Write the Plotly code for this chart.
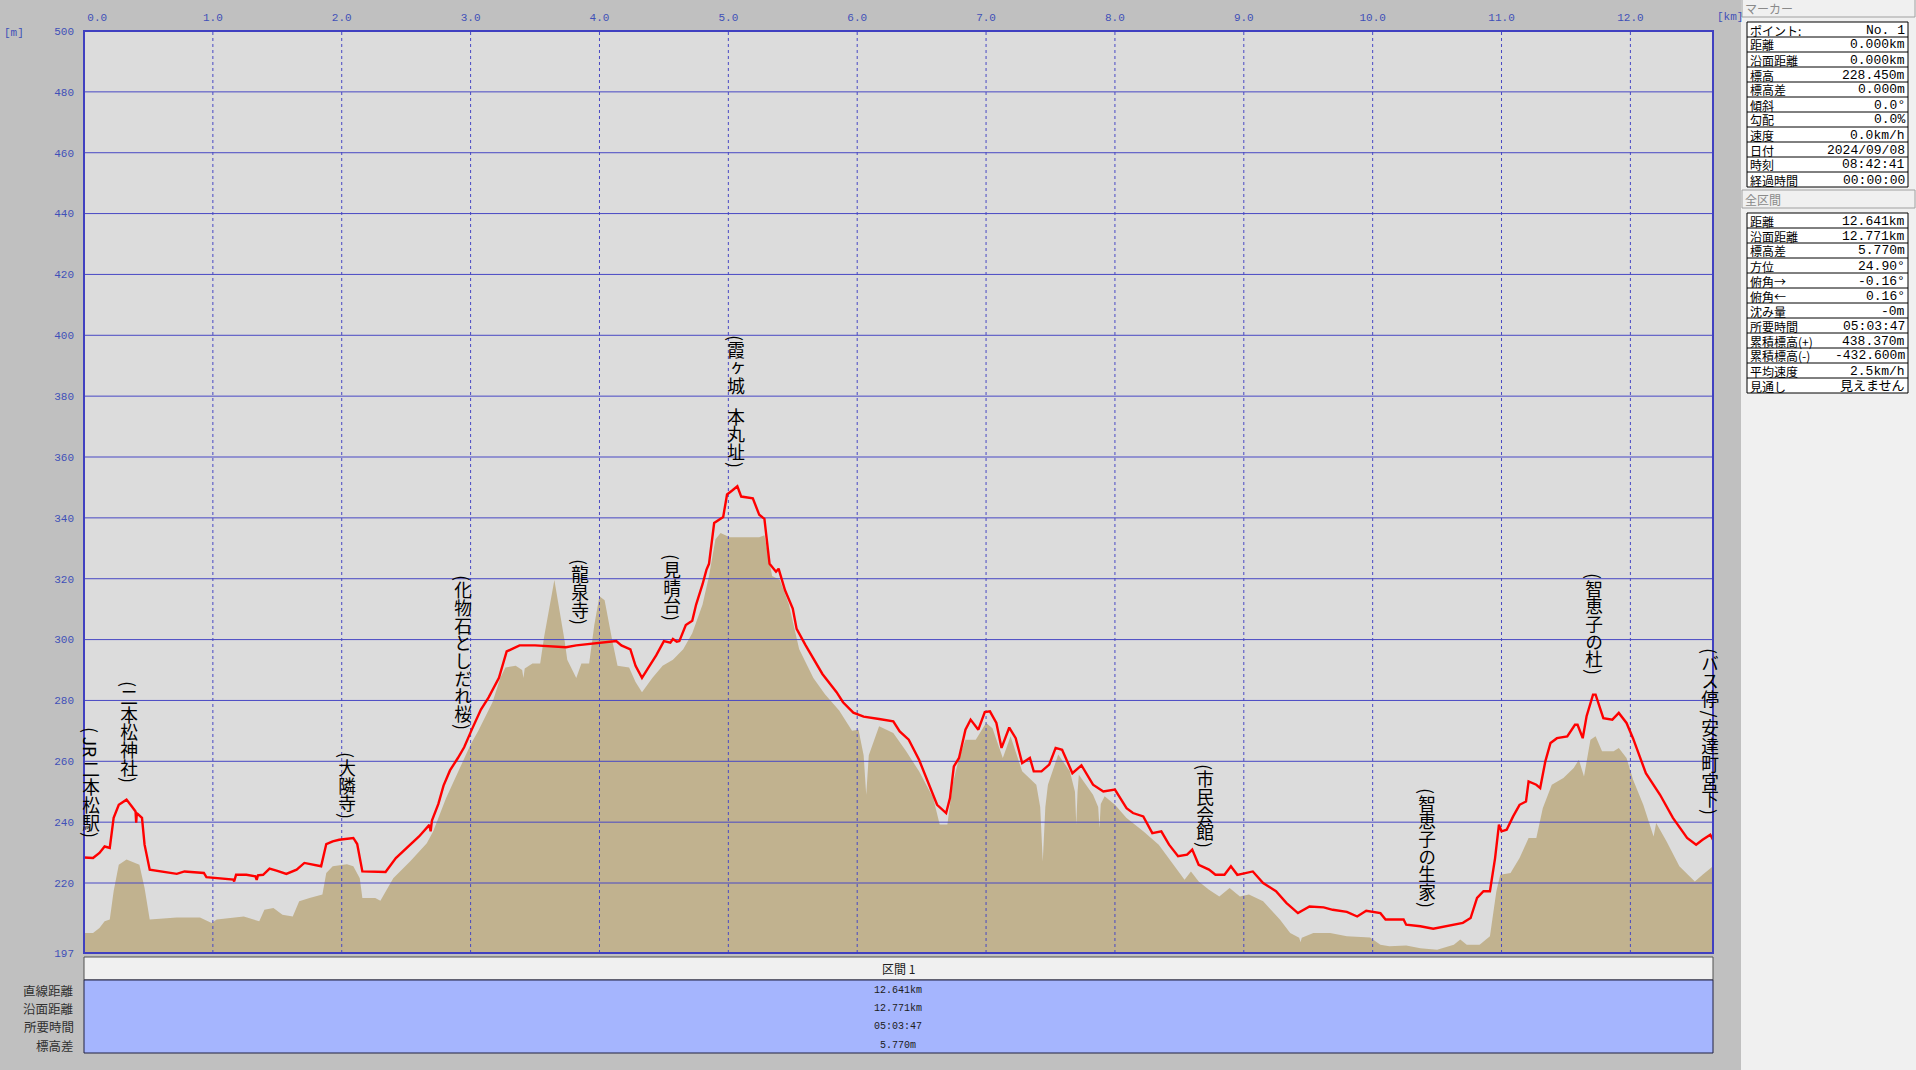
import numpy as np
import plotly.graph_objects as go

# ---------------- data ----------------
red_km = [0.00, 0.07, 0.12, 0.16, 0.20, 0.21, 0.23, 0.27, 0.33, 0.37, 0.40, 0.405, 0.41, 0.45, 0.47, 0.51,
          0.59, 0.72, 0.78, 0.93, 0.95, 1.11, 1.16, 1.165, 1.18, 1.26, 1.33, 1.34, 1.35, 1.39, 1.44, 1.50,
          1.57, 1.65, 1.71, 1.84, 1.88, 1.93, 1.98, 2.09, 2.12, 2.16, 2.34, 2.42, 2.52, 2.60, 2.68, 2.69,
          2.70, 2.75, 2.79, 2.84, 2.90, 2.95, 3.01, 3.08, 3.14, 3.22, 3.28, 3.38, 3.50, 3.74, 3.82, 4.13,
          4.17, 4.24, 4.28, 4.33, 4.37, 4.44, 4.50, 4.55, 4.57, 4.60, 4.62, 4.67, 4.72, 4.75, 4.80, 4.83,
          4.85, 4.89, 4.96, 4.99, 5.03, 5.07, 5.10, 5.19, 5.24, 5.28, 5.32, 5.37, 5.39, 5.44, 5.50, 5.53,
          5.60, 5.73, 5.84, 5.89, 5.97, 6.05, 6.17, 6.28, 6.33, 6.40, 6.48, 6.56, 6.62, 6.69, 6.72, 6.75,
          6.79, 6.84, 6.88, 6.94, 6.99, 7.03, 7.08, 7.12, 7.18, 7.23, 7.28, 7.34, 7.37, 7.43, 7.49, 7.54,
          7.59, 7.67, 7.74, 7.83, 7.91, 8.00, 8.09, 8.14, 8.22, 8.29, 8.36, 8.42, 8.49, 8.56, 8.60, 8.65,
          8.73, 8.78, 8.85, 8.90, 8.95, 9.07, 9.15, 9.25, 9.33, 9.42, 9.51, 9.62, 9.69, 9.80, 9.88, 9.95,
          10.06, 10.10, 10.24, 10.26, 10.37, 10.47, 10.57, 10.70, 10.76, 10.81, 10.86, 10.91, 10.95, 10.98,
          11.00, 11.04, 11.09, 11.14, 11.19, 11.21, 11.27, 11.30, 11.34, 11.38, 11.43, 11.51, 11.57, 11.59,
          11.63, 11.66, 11.71, 11.73, 11.79, 11.86, 11.91, 11.97, 12.02, 12.12, 12.23, 12.33, 12.44, 12.51,
          12.56, 12.62, 12.641]
red_m = [228.4, 228.2, 229.9, 232.0, 231.5, 234.8, 241.4, 245.7, 247.4, 245.2, 243.5, 239.8, 243.0, 241.4, 232.6, 224.4,
         223.8, 223.0, 223.8, 223.3, 221.9, 221.4, 221.1, 220.5, 222.7, 222.7, 222.2, 221.0, 222.5, 222.7, 224.7, 224.0,
         223.0, 224.4, 226.6, 225.5, 232.8, 233.7, 234.2, 234.8, 232.8, 223.8, 223.6, 228.2, 232.0, 235.3, 239.1, 237.0,
         240.5, 246.0, 252.0, 257.0, 261.0, 264.6, 270.5, 277.0, 281.0, 287.4, 296.1, 298.1, 298.1, 297.5, 298.1, 299.5,
         298.1, 296.8, 291.4, 287.4, 290.1, 294.8, 299.5, 299.0, 300.2, 299.3, 299.5, 304.8, 306.2, 311.5, 318.2, 322.9,
         324.9, 338.3, 340.3, 347.7, 349.0, 350.4, 347.0, 346.4, 341.0, 339.7, 324.9, 322.3, 323.3, 316.2, 310.2, 303.5,
         298.1, 288.7, 282.7, 279.4, 276.0, 274.7, 273.9, 273.1, 269.8, 267.1, 260.5, 252.3, 245.7, 243.0, 247.9, 258.3,
         261.1, 270.4, 273.7, 270.4, 276.2, 276.4, 272.6, 264.4, 271.1, 267.6, 259.4, 261.1, 256.7, 256.7, 258.9, 264.4,
         263.8, 256.1, 258.7, 252.3, 250.1, 250.7, 244.6, 243.0, 241.9, 236.4, 237.0, 232.6, 228.8, 229.3, 231.0, 226.0,
         224.4, 222.7, 222.7, 225.5, 222.7, 223.8, 220.0, 217.3, 213.5, 210.1, 212.3, 212.0, 211.2, 210.5, 209.0, 210.9,
         210.1, 208.0, 208.0, 206.3, 205.8, 205.0, 205.8, 206.9, 208.5, 215.1, 217.3, 217.3, 228.2, 239.2,
         237.0, 237.5, 241.9, 245.7, 246.8, 253.4, 252.3, 251.2, 260.0, 266.0, 267.6, 268.2, 272.0, 272.0,
         267.6, 274.8, 281.9, 281.9, 274.2, 273.7, 275.9, 272.6, 267.6, 256.1, 249.0, 241.4, 234.8, 232.6,
         234.2, 235.9, 234.2]

tan_km = [0.00, 0.07, 0.12, 0.16, 0.20, 0.23, 0.27, 0.33, 0.43, 0.47, 0.51, 0.59, 0.72, 0.90, 0.99, 1.03,
          1.24, 1.36, 1.40, 1.47, 1.54, 1.62, 1.67, 1.75, 1.85, 1.88, 1.93, 2.04, 2.09, 2.14, 2.16, 2.26,
          2.30, 2.40, 2.53, 2.66, 2.71, 2.81, 2.94, 3.00, 3.06, 3.17, 3.23, 3.27, 3.35, 3.40, 3.41, 3.42,
          3.48, 3.54, 3.57, 3.65, 3.73, 3.75, 3.82, 3.86, 3.92, 3.96, 4.00, 4.04, 4.10, 4.14, 4.23, 4.28,
          4.33, 4.41, 4.49, 4.57, 4.65, 4.72, 4.80, 4.85, 4.90, 4.94, 5.01, 5.24, 5.28, 5.31, 5.34, 5.40,
          5.47, 5.55, 5.66, 5.75, 5.86, 5.96, 6.01, 6.05, 6.07, 6.09, 6.12, 6.17, 6.28, 6.38, 6.48, 6.59,
          6.64, 6.70, 6.74, 6.79, 6.84, 6.92, 7.00, 7.05, 7.13, 7.19, 7.28, 7.39, 7.42, 7.44, 7.46, 7.48,
          7.56, 7.65, 7.69, 7.70, 7.71, 7.72, 7.83, 7.87, 7.88, 7.89, 7.92, 8.00, 8.09, 8.22, 8.34, 8.47,
          8.54, 8.59, 8.65, 8.73, 8.81, 8.89, 8.97, 9.04, 9.15, 9.28, 9.36, 9.43, 9.44, 9.45, 9.54, 9.67,
          9.80, 9.98, 10.06, 10.13, 10.26, 10.37, 10.50, 10.63, 10.68, 10.73, 10.83, 10.91, 10.96, 10.99,
          11.07, 11.14, 11.21, 11.27, 11.32, 11.39, 11.48, 11.56, 11.60, 11.64, 11.69, 11.73, 11.78, 11.87,
          11.91, 11.97, 12.02, 12.10, 12.15, 12.18, 12.20, 12.28, 12.38, 12.50, 12.56, 12.641]
tan_m = [203.6, 203.6, 205.2, 207.4, 208.0, 217.3, 226.0, 227.7, 226.0, 218.4, 208.0, 208.3, 208.7, 208.7, 206.9, 208.0,
         209.0, 207.4, 211.2, 211.8, 209.6, 209.0, 214.0, 215.1, 216.2, 223.3, 225.5, 226.2, 225.5, 221.6, 215.1, 215.1,
         214.2, 221.6, 227.1, 233.1, 237.0, 247.9, 260.0, 265.5, 270.0, 279.4, 287.4, 290.8, 291.4, 290.0, 287.4, 290.5,
         292.1, 292.1, 300.8, 319.6, 299.5, 293.4, 287.4, 292.1, 292.1, 304.8, 314.2, 312.9, 299.5, 291.4, 290.8, 286.1,
         282.7, 287.4, 291.4, 293.4, 296.8, 302.1, 311.5, 320.9, 333.0, 335.0, 333.6, 333.6, 334.3, 327.6, 320.9, 319.6,
         311.5, 296.8, 287.4, 282.0, 276.7, 270.0, 270.4, 262.0, 249.0, 262.0, 265.5, 271.5, 269.3, 263.3, 256.7, 247.9,
         239.2, 239.2, 252.3, 261.1, 267.1, 267.1, 272.6, 270.9, 261.1, 268.2, 256.7, 252.3, 245.0, 227.1, 245.0, 252.3,
         262.2, 256.7, 250.0, 239.2, 250.0, 255.6, 249.0, 245.0, 238.1, 246.0, 248.5, 245.7, 241.4, 237.0, 232.6, 224.9,
         221.1, 223.8, 220.5, 217.8, 215.6, 218.4, 215.6, 216.2, 214.0, 208.0, 203.6, 202.0, 200.5, 202.0, 203.6, 203.6,
         202.5, 202.1, 199.7, 199.2, 199.5, 198.6, 198.1, 199.7, 201.4, 199.7, 199.7, 202.5, 217.3, 222.7,
         223.3, 228.2, 234.8, 234.8, 244.6, 252.3, 254.5, 257.8, 260.5, 255.0, 267.1, 268.2, 263.3, 263.3,
         264.4, 261.1, 254.0, 245.7, 239.2, 235.3, 239.7, 233.7, 225.5, 220.5, 222.7, 225.5]

x_ticks = [0, 1, 2, 3, 4, 5, 6, 7, 8, 9, 10, 11, 12]
x_tick_text = ["\u00a0\u00a0\u00a0\u00a00.0", "1.0", "2.0", "3.0", "4.0", "5.0", "6.0", "7.0", "8.0",
               "9.0", "10.0", "11.0", "12.0"]
y_ticks = [197, 220, 240, 260, 280, 300, 320, 340, 360, 380, 400, 420, 440, 460, 480, 500]
y_grid = [220, 240, 260, 280, 300, 320, 340, 360, 380, 400, 420, 440, 460, 480]

poi_names = ["(JR二本松駅)", "(二本松神社)", "(大隣寺)", "(化物石としだれ桜)", "(龍泉寺)", "(見晴台)",
             "(霞ヶ城 本丸址)", "(市民会館)", "(智恵子の生家)", "(智恵子の杜)", "(バス停/安達町宮下)"]
poi_km = [0.052, 0.35, 2.04, 2.94, 3.85, 4.56, 5.06, 8.70, 10.42, 11.72, 12.62]

marker_keys = ["ポイント:", "距離", "沿面距離", "標高", "標高差", "傾斜", "勾配", "速度", "日付", "時刻", "経過時間"]
marker_vals = ["No. 1", "0.000km", "0.000km", "228.450m", "0.000m", "0.0°", "0.0%", "0.0km/h",
               "2024/09/08", "08:42:41", "00:00:00"]
total_keys = ["距離", "沿面距離", "標高差", "方位", "俯角→", "俯角←", "沈み量", "所要時間",
              "累積標高(+)", "累積標高(-)", "平均速度", "見通し"]
total_vals = ["12.641km", "12.771km", "5.770m", "24.90°", "-0.16°", "0.16°", "-0m", "05:03:47",
              "438.370m", "-432.600m", "2.5km/h", "見えません"]
sect_keys = ["直線距離", "沿面距離", "所要時間", "標高差"]
sect_vals = ["12.641km", "12.771km", "05:03:47", "5.770m"]
sect_title = "区間 1"

# ---------------- style ----------------
W, H = 1916, 1070
L, R, T, B = 84, 1713, 31, 953
BG_OUT = "#c0c0c0"
BG_PLOT = "#dcdcdc"
TAN = "#c1b28f"
RED = "#ff0000"
GRID = "#4848c4"
TICK = "#4050b8"
PANEL = "#f0f0f0"
SECT_BLUE = "#a5b5fe"
CJK = "Noto Sans CJK JP"
MONO = "Liberation Mono, Noto Sans CJK JP"
XMAX = red_km[-1]
LABEL_SIZE = 17.7     # glyph size = vertical pitch of label characters
LABEL_GAP = 19        # px between track line and label bottom
SLOT = {"(": 7.5, ")": 7.5, " ": 13, "/": 12}


def pxx(x):
    return (x - L) / (R - L)


def pxy(y):
    return (B - y) / (B - T)


fig = go.Figure()
fig.add_trace(go.Scatter(x=tan_km, y=tan_m, mode="lines", fill="tozeroy", fillcolor=TAN,
                         line=dict(width=0, color=TAN), hoverinfo="skip", showlegend=False))

gx, gy = [], []
for v in y_grid:
    gx += [0, XMAX, None]
    gy += [v, v, None]
fig.add_trace(go.Scatter(x=gx, y=gy, mode="lines", line=dict(color=GRID, width=1),
                         hoverinfo="skip", showlegend=False))
vx, vy = [], []
for v in x_ticks:
    vx += [v, v, None]
    vy += [y_ticks[0], y_ticks[-1], None]
fig.add_trace(go.Scatter(x=vx, y=vy, mode="lines", line=dict(color=GRID, width=1, dash="dot"),
                         hoverinfo="skip", showlegend=False))

fig.add_trace(go.Scatter(x=red_km, y=red_m, mode="lines", line=dict(color=RED, width=2.4),
                         hoverinfo="skip", showlegend=False))

annotations = []
shapes = []


def tokenize(s):
    toks = []
    buf = ""
    for ch in s:
        if ch.isascii() and ch.isalnum():
            buf += ch
            continue
        if buf:
            toks.append((buf, 27))
            buf = ""
        if ch in SLOT:
            toks.append((None if ch == " " else ch, SLOT[ch]))
        else:
            toks.append((ch, LABEL_SIZE))
    if buf:
        toks.append((buf, 27))
    return toks


# vertical POI labels: one annotation per character, stacked upward from the track line;
# each is switched to vertical writing after render (see VERTICAL_JS)
for name, km in zip(poi_names, poi_km):
    base = float(np.interp(km, red_km, red_m))
    off = LABEL_GAP
    for txt, h in reversed(tokenize(name)):
        c = off + h / 2
        off += h
        if txt is None:
            continue
        annotations.append(dict(x=km, y=base, xref="x", yref="y", yshift=c, text=txt, showarrow=False,
                                xanchor="center", yanchor="middle", borderpad=0,
                                font=dict(family=CJK, size=LABEL_SIZE, color="#000000")))
N_LABELS = len(annotations)

# axis unit labels
annotations.append(dict(xref="paper", yref="paper", x=pxx(2), y=pxy(33), text="[m]", showarrow=False,
                        xanchor="left", yanchor="middle", font=dict(family=MONO, size=11, color=TICK)))
annotations.append(dict(xref="paper", yref="paper", x=pxx(1715), y=pxy(17), text="[km]", showarrow=False,
                        xanchor="left", yanchor="middle", font=dict(family=MONO, size=11, color=TICK)))

# plot border
shapes.append(dict(type="rect", xref="paper", yref="paper", x0=0, x1=1, y0=0, y1=1,
                   line=dict(color="#4040c0", width=2), layer="above"))

# section table under the chart
shapes.append(dict(type="rect", xref="paper", yref="paper", x0=pxx(84), x1=pxx(1713), y0=pxy(980), y1=pxy(957),
                   fillcolor="#f0f0f0", line=dict(color="#505050", width=1), layer="above"))
shapes.append(dict(type="rect", xref="paper", yref="paper", x0=pxx(84), x1=pxx(1713), y0=pxy(1053), y1=pxy(980),
                   fillcolor=SECT_BLUE, line=dict(color="#202040", width=1), layer="above"))
annotations.append(dict(xref="paper", yref="paper", x=pxx(898), y=pxy(968.5), text=sect_title, showarrow=False,
                        xanchor="center", yanchor="middle", font=dict(family=CJK, size=12, color="#202020")))
for i, (k, v) in enumerate(zip(sect_keys, sect_vals)):
    yy = 990.5 + 18.2 * i
    annotations.append(dict(xref="paper", yref="paper", x=pxx(75), y=pxy(yy), text=k, showarrow=False,
                            xanchor="right", yanchor="middle", borderpad=0,
                            font=dict(family=CJK, size=12.5, color="#303030")))
    annotations.append(dict(xref="paper", yref="paper", x=pxx(898), y=pxy(yy), text=v, showarrow=False,
                            xanchor="center", yanchor="middle", borderpad=0,
                            font=dict(family=MONO, size=10, color="#202020")))

# right info panel
shapes.append(dict(type="rect", xref="paper", yref="paper", x0=pxx(1741), x1=pxx(1920), y0=pxy(1075), y1=pxy(-5),
                   fillcolor=PANEL, line=dict(width=0), layer="above"))


def panel_block(title, title_y0, title_y1, table_top, keys, vals):
    shapes.append(dict(type="rect", xref="paper", yref="paper", x0=pxx(1742), x1=pxx(1915),
                       y0=pxy(title_y1), y1=pxy(title_y0), fillcolor=PANEL,
                       line=dict(color="#a0a0a0", width=1), layer="above"))
    annotations.append(dict(xref="paper", yref="paper", x=pxx(1744), y=pxy((title_y0 + title_y1) / 2 + 0.5),
                            text=title, showarrow=False, xanchor="left", yanchor="middle", borderpad=0,
                            font=dict(family=CJK, size=12, color="#8a8a8a")))
    n = len(keys)
    bottom = table_top + 15 * n
    shapes.append(dict(type="rect", xref="paper", yref="paper", x0=pxx(1747), x1=pxx(1908),
                       y0=pxy(bottom), y1=pxy(table_top), fillcolor="#ffffff",
                       line=dict(color="#000000", width=1), layer="above"))
    for i in range(1, n):
        yy = table_top + 15 * i
        shapes.append(dict(type="line", xref="paper", yref="paper", x0=pxx(1747), x1=pxx(1908),
                           y0=pxy(yy), y1=pxy(yy), line=dict(color="#000000", width=1), layer="above"))
    for i, (k, v) in enumerate(zip(keys, vals)):
        yc = table_top + 15 * i + 8
        annotations.append(dict(xref="paper", yref="paper", x=pxx(1749), y=pxy(yc), text=k, showarrow=False,
                                xanchor="left", yanchor="middle", borderpad=0,
                                font=dict(family=CJK, size=12, color="#000000")))
        annotations.append(dict(xref="paper", yref="paper", x=pxx(1906), y=pxy(yc), text=v, showarrow=False,
                                xanchor="right", yanchor="middle", borderpad=0,
                                font=dict(family=MONO, size=13, color="#000000")))


panel_block("マーカー", -1, 17, 22, marker_keys, marker_vals)
panel_block("全区間", 190, 208, 213, total_keys, total_vals)

fig.update_layout(
    width=W, height=H, autosize=False,
    margin=dict(l=L, r=W - R, t=T, b=H - B, pad=0),
    paper_bgcolor=BG_OUT, plot_bgcolor=BG_PLOT,
    showlegend=False,
    annotations=annotations, shapes=shapes,
    xaxis=dict(range=[0, XMAX], side="top", tickvals=x_ticks, ticktext=x_tick_text, showgrid=False,
               zeroline=False, showline=False, ticks="", ticklabelstandoff=7,
               tickfont=dict(family=MONO, size=11, color=TICK), fixedrange=True),
    yaxis=dict(range=[197, 500], tickvals=y_ticks, ticktext=[str(v) for v in y_ticks], showgrid=False,
               zeroline=False, showline=False, ticks="", ticklabelstandoff=9,
               tickfont=dict(family=MONO, size=11, color=TICK), fixedrange=True),
)

# Switch the POI label characters to vertical writing (upright CJK, sideways Latin and
# brackets), each centred on its annotation point, like the original profile view.
VERTICAL_JS = """
document.body.style.margin='0';document.body.style.overflow='hidden';
var gd = document.getElementById('{plot_id}');
gd.querySelectorAll('g.annotation').forEach(function(g){
  var i = parseInt(g.getAttribute('data-index'));
  if (isNaN(i) || i >= %d) return;
  var t = g.querySelector('text.annotation-text');
  var r = g.querySelector('rect.bg');
  if (!t || !r) return;
  var cx = parseFloat(r.getAttribute('x')) + parseFloat(r.getAttribute('width')) / 2;
  var cy = parseFloat(r.getAttribute('y')) + parseFloat(r.getAttribute('height')) / 2;
  t.setAttribute('writing-mode', 'tb');
  t.style.writingMode = 'vertical-rl';
  t.style.textAnchor = 'middle';
  t.setAttribute('text-anchor', 'middle');
  t.setAttribute('x', cx);
  t.setAttribute('y', cy);
  t.querySelectorAll('tspan').forEach(function(s){ s.setAttribute('x', cx); s.setAttribute('y', cy); });
});
""" % N_LABELS

fig.write_html("out.html", config={"displayModeBar": False}, post_script=VERTICAL_JS)
